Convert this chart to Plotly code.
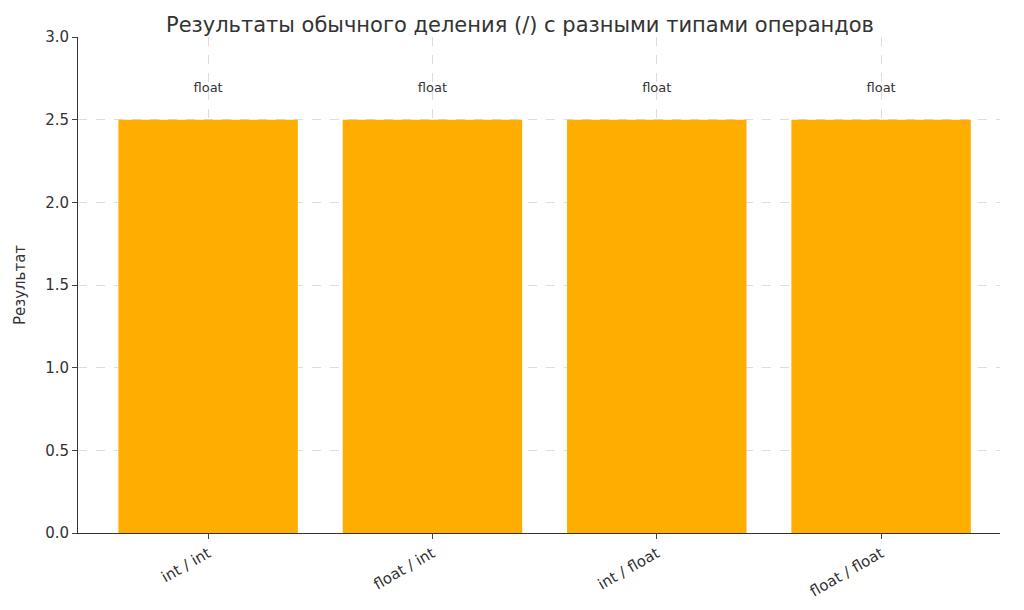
import plotly.graph_objects as go

categories = ["int / int", "float / int", "int / float", "float / float"]
values = [2.5, 2.5, 2.5, 2.5]
type_labels = ["float", "float", "float", "float"]

fig = go.Figure()
fig.add_trace(go.Bar(x=categories, y=values, marker_color="#FFAE00", marker_line_width=0))
fig.add_trace(go.Scatter(x=categories, y=[v + 0.15 for v in values], mode="text",
                         text=type_labels, textposition="top center",
                         textfont=dict(size=13, color="#333")))
fig.update_layout(
    width=1024, height=610, showlegend=False,
    plot_bgcolor="white", paper_bgcolor="white",
    font=dict(family="DejaVu Sans", color="#333"),
    title=dict(text="Результаты обычного деления (/) с разными типами операндов",
               x=0.5, xanchor="center", y=0.985, font=dict(size=21)),
    margin=dict(l=57, r=32, t=29, b=85),
    bargap=0.2,
    xaxis=dict(range=[-0.58, 3.53], tickangle=-30, tickfont=dict(size=15),
               showgrid=True, gridcolor="#ddd", griddash="dash",
               showline=True, linecolor="#333", ticks="outside"),
    yaxis=dict(range=[0, 3.0], dtick=0.5, tickformat=".1f", tickfont=dict(size=15),
               title=dict(text="Результат", font=dict(size=15)),
               showgrid=True, gridcolor="#ddd", griddash="dash",
               showline=True, linecolor="#333", ticks="outside", zeroline=False),
)
fig.write_html("out.html")
